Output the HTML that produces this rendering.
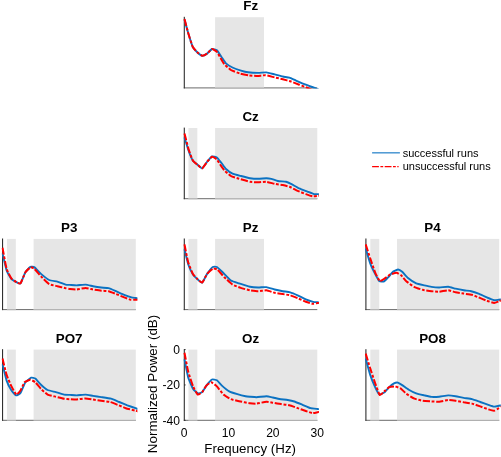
<!DOCTYPE html>
<html><head><meta charset="utf-8"><title>PSD</title>
<style>html,body{margin:0;padding:0;background:#fff}svg{display:block}text{font-family:"Liberation Sans",sans-serif;fill:#000}</style></head><body>
<svg width="501" height="457" viewBox="0 0 501 457" style="will-change:transform">
<rect x="0" y="0" width="501" height="457" fill="#fff"/>
<defs>
<clipPath id="c_Fz"><rect x="183.00" y="16.70" width="135.90" height="71.70"/></clipPath>
<clipPath id="c_Cz"><rect x="183.00" y="127.50" width="135.90" height="71.70"/></clipPath>
<clipPath id="c_P3"><rect x="1.50" y="238.40" width="135.90" height="71.70"/></clipPath>
<clipPath id="c_Pz"><rect x="183.00" y="238.40" width="135.90" height="71.70"/></clipPath>
<clipPath id="c_P4"><rect x="364.90" y="238.40" width="135.90" height="71.70"/></clipPath>
<clipPath id="c_PO7"><rect x="1.50" y="349.10" width="135.90" height="71.70"/></clipPath>
<clipPath id="c_Oz"><rect x="183.00" y="349.10" width="135.90" height="71.70"/></clipPath>
<clipPath id="c_PO8"><rect x="364.90" y="349.10" width="135.90" height="71.70"/></clipPath>
</defs>
<rect x="183.75" y="87.40" width="133.55" height="1" fill="#6a6a6a"/>
<rect x="215.10" y="17.20" width="48.88" height="70.70" fill="#e6e6e6"/>
<rect x="215.10" y="87.40" width="48.88" height="1" fill="#b4b4b4"/>
<rect x="183.75" y="16.80" width="1.1" height="71.60" fill="#303030"/>
<g clip-path="url(#c_Fz)" fill="none" stroke-linejoin="round">
<path d="M184.50 19.50 C184.79 20.54 187.91 32.04 188.50 34.00 C189.09 35.96 192.16 45.68 192.80 47.00 C193.44 48.32 196.83 51.88 197.50 52.50 C198.17 53.12 201.51 55.62 202.20 55.70 C202.89 55.78 206.40 54.08 207.10 53.60 C207.80 53.12 211.30 49.24 212.00 49.00 C212.70 48.76 216.22 49.73 216.90 50.30 C217.58 50.87 220.85 56.06 221.50 57.00 C222.15 57.94 225.21 62.65 226.00 63.40 C226.79 64.15 231.43 66.99 232.50 67.50 C233.57 68.01 239.89 70.26 241.00 70.60 C242.11 70.94 246.77 72.14 248.00 72.30 C249.23 72.46 256.89 72.89 258.20 72.90 C259.51 72.91 265.23 72.29 266.40 72.40 C267.57 72.51 273.43 74.11 274.60 74.40 C275.77 74.69 281.74 76.26 282.80 76.50 C283.86 76.74 288.46 77.41 289.40 77.70 C290.34 77.99 294.83 80.10 296.00 80.60 C297.17 81.10 304.46 84.18 305.80 84.70 C307.14 85.22 313.93 87.58 314.80 87.90 C315.67 88.22 317.61 89.04 318.00 89.20 C318.39 89.36 320.14 90.07 320.30 90.13" stroke="#0b72c2" stroke-width="1.90"/>
<path d="M184.50 19.00 C184.79 20.07 187.91 32.00 188.50 34.00 C189.09 36.00 192.16 45.68 192.80 47.00 C193.44 48.32 196.83 51.88 197.50 52.50 C198.17 53.12 201.51 55.62 202.20 55.70 C202.89 55.78 206.40 54.08 207.10 53.60 C207.80 53.12 211.30 49.12 212.00 49.00 C212.70 48.88 216.29 51.26 216.90 51.90 C217.51 52.54 219.97 57.12 220.50 58.00 C221.03 58.88 223.56 63.34 224.30 64.20 C225.04 65.06 229.78 69.33 230.90 70.00 C232.02 70.67 238.71 73.21 240.00 73.60 C241.29 73.99 247.76 75.23 249.00 75.40 C250.24 75.57 256.21 76.01 257.40 76.00 C258.59 75.99 264.37 75.10 265.60 75.20 C266.83 75.30 273.37 77.11 274.60 77.40 C275.83 77.69 281.63 79.01 282.80 79.30 C283.97 79.59 289.83 81.11 291.00 81.50 C292.17 81.89 297.96 84.22 299.20 84.70 C300.44 85.18 307.39 87.84 308.30 88.20 C309.21 88.56 311.14 89.43 312.00 89.80 C312.86 90.17 319.71 93.13 320.30 93.39" stroke="#ff0000" stroke-width="2.00" stroke-dasharray="7.2 1.7 2.8 1.7"/>
</g>
<text x="250.65" y="10.30" font-size="13.4" font-weight="bold" text-anchor="middle">Fz</text>
<rect x="183.75" y="198.20" width="133.55" height="1" fill="#6a6a6a"/>
<rect x="188.44" y="128.00" width="8.89" height="70.70" fill="#e6e6e6"/>
<rect x="188.44" y="198.20" width="8.89" height="1" fill="#b4b4b4"/>
<rect x="215.10" y="128.00" width="102.20" height="70.70" fill="#e6e6e6"/>
<rect x="215.10" y="198.20" width="102.20" height="1" fill="#b4b4b4"/>
<rect x="183.75" y="127.60" width="1.1" height="71.60" fill="#303030"/>
<g clip-path="url(#c_Cz)" fill="none" stroke-linejoin="round">
<path d="M184.50 137.50 C184.79 138.43 187.91 148.86 188.50 150.50 C189.09 152.14 192.16 159.49 192.80 160.50 C193.44 161.51 196.83 164.14 197.50 164.70 C198.17 165.26 201.52 168.49 202.20 168.30 C202.88 168.11 206.30 162.85 207.00 162.00 C207.70 161.15 211.29 156.72 212.00 156.40 C212.71 156.08 216.22 157.03 216.90 157.50 C217.58 157.97 220.85 162.18 221.50 163.00 C222.15 163.82 225.21 168.24 226.00 169.00 C226.79 169.76 231.43 173.10 232.50 173.60 C233.57 174.10 239.75 175.67 241.00 176.00 C242.25 176.33 248.77 178.00 250.00 178.20 C251.23 178.40 257.03 178.80 258.20 178.80 C259.37 178.80 265.46 178.20 266.40 178.20 C267.34 178.20 270.48 178.60 271.30 178.80 C272.12 179.00 276.84 180.79 277.90 181.00 C278.96 181.21 285.16 181.60 286.10 181.80 C287.04 182.00 290.06 183.33 291.00 183.80 C291.94 184.27 298.03 187.84 299.20 188.40 C300.37 188.96 306.34 191.19 307.40 191.60 C308.46 192.01 313.28 193.92 314.00 194.10 C314.72 194.28 317.05 194.10 317.50 194.10 C317.95 194.10 320.10 194.10 320.30 194.10" stroke="#0b72c2" stroke-width="1.90"/>
<path d="M184.50 133.40 C184.79 134.51 187.91 147.06 188.50 149.00 C189.09 150.94 192.16 159.38 192.80 160.50 C193.44 161.62 196.83 164.14 197.50 164.70 C198.17 165.26 201.52 168.49 202.20 168.30 C202.88 168.11 206.30 162.82 207.00 162.00 C207.70 161.18 211.29 156.97 212.00 156.80 C212.71 156.63 216.29 159.01 216.90 159.60 C217.51 160.19 219.97 164.24 220.50 165.00 C221.03 165.76 223.56 169.51 224.30 170.30 C225.04 171.09 229.85 175.39 230.90 176.00 C231.95 176.61 237.64 178.39 239.00 178.80 C240.36 179.21 248.63 181.55 250.00 181.80 C251.37 182.05 257.03 182.30 258.20 182.30 C259.37 182.30 265.23 181.69 266.40 181.80 C267.57 181.91 273.43 183.56 274.60 183.80 C275.77 184.04 281.74 184.89 282.80 185.10 C283.86 185.31 288.34 186.29 289.40 186.70 C290.46 187.11 296.43 190.27 297.60 190.80 C298.77 191.33 304.74 193.71 305.80 194.10 C306.86 194.49 311.56 196.08 312.40 196.20 C313.24 196.32 316.94 195.84 317.50 195.80 C318.06 195.76 320.10 195.60 320.30 195.58" stroke="#ff0000" stroke-width="2.00" stroke-dasharray="7.2 1.7 2.8 1.7"/>
</g>
<text x="250.65" y="121.10" font-size="13.4" font-weight="bold" text-anchor="middle">Cz</text>
<rect x="2.00" y="309.10" width="133.80" height="1" fill="#6a6a6a"/>
<rect x="6.94" y="238.90" width="8.89" height="70.70" fill="#e6e6e6"/>
<rect x="6.94" y="309.10" width="8.89" height="1" fill="#b4b4b4"/>
<rect x="33.60" y="238.90" width="102.20" height="70.70" fill="#e6e6e6"/>
<rect x="33.60" y="309.10" width="102.20" height="1" fill="#b4b4b4"/>
<rect x="2.00" y="238.50" width="1.1" height="71.60" fill="#303030"/>
<g clip-path="url(#c_P3)" fill="none" stroke-linejoin="round">
<path d="M2.50 253.40 C2.79 254.62 5.96 268.66 6.60 270.50 C7.24 272.34 10.80 278.37 11.50 279.20 C12.20 280.03 15.76 281.80 16.40 282.10 C17.04 282.40 19.86 284.10 20.50 283.40 C21.14 282.70 24.69 273.49 25.40 272.30 C26.11 271.11 29.75 267.15 30.40 266.80 C31.05 266.45 33.74 266.89 34.50 267.40 C35.26 267.91 39.95 273.00 41.00 273.90 C42.05 274.80 48.03 279.45 49.20 280.00 C50.37 280.55 56.23 281.27 57.40 281.60 C58.57 281.93 64.70 284.36 65.60 284.60 C66.50 284.84 69.21 284.84 70.00 284.90 C70.79 284.96 75.49 285.42 76.60 285.40 C77.71 285.38 84.43 284.54 85.60 284.60 C86.77 284.66 91.89 285.99 93.00 286.20 C94.11 286.41 100.09 287.36 101.20 287.50 C102.31 287.64 107.54 287.94 108.60 288.20 C109.66 288.46 114.89 290.73 116.00 291.20 C117.11 291.67 123.09 294.36 124.20 294.80 C125.31 295.24 130.69 297.17 131.50 297.40 C132.31 297.63 134.98 297.92 135.50 298.00 C136.02 298.08 138.56 298.46 138.80 298.50" stroke="#0b72c2" stroke-width="1.90"/>
<path d="M2.50 247.70 C2.79 249.21 5.96 266.59 6.60 268.80 C7.24 271.01 10.80 277.65 11.50 278.60 C12.20 279.55 15.76 281.76 16.40 282.10 C17.04 282.44 19.86 284.10 20.50 283.40 C21.14 282.70 24.69 273.44 25.40 272.30 C26.11 271.16 29.75 267.64 30.40 267.40 C31.05 267.16 33.74 268.36 34.50 269.00 C35.26 269.64 39.95 275.32 41.00 276.40 C42.05 277.48 48.03 283.40 49.20 284.10 C50.37 284.80 56.23 285.91 57.40 286.20 C58.57 286.49 64.70 288.00 65.60 288.20 C66.50 288.40 69.21 288.91 70.00 289.00 C70.79 289.09 75.49 289.58 76.60 289.50 C77.71 289.42 84.43 287.90 85.60 287.90 C86.77 287.90 91.89 289.30 93.00 289.50 C94.11 289.70 100.09 290.58 101.20 290.70 C102.31 290.82 107.54 290.96 108.60 291.20 C109.66 291.44 114.89 293.56 116.00 294.00 C117.11 294.44 123.15 296.99 124.20 297.40 C125.25 297.81 129.89 299.54 130.70 299.70 C131.51 299.86 134.92 299.70 135.50 299.70 C136.08 299.70 138.56 299.70 138.80 299.70" stroke="#ff0000" stroke-width="2.00" stroke-dasharray="7.2 1.7 2.8 1.7"/>
</g>
<text x="69.15" y="232.00" font-size="13.4" font-weight="bold" text-anchor="middle">P3</text>
<rect x="183.75" y="309.10" width="133.55" height="1" fill="#6a6a6a"/>
<rect x="188.44" y="238.90" width="8.89" height="70.70" fill="#e6e6e6"/>
<rect x="188.44" y="309.10" width="8.89" height="1" fill="#b4b4b4"/>
<rect x="215.10" y="238.90" width="48.88" height="70.70" fill="#e6e6e6"/>
<rect x="215.10" y="309.10" width="48.88" height="1" fill="#b4b4b4"/>
<rect x="183.75" y="238.50" width="1.1" height="71.60" fill="#303030"/>
<g clip-path="url(#c_Pz)" fill="none" stroke-linejoin="round">
<path d="M184.50 249.30 C184.76 250.37 187.61 262.52 188.20 264.30 C188.79 266.08 192.16 273.16 192.80 274.20 C193.44 275.24 196.53 278.30 197.20 278.90 C197.87 279.50 201.49 282.96 202.20 282.60 C202.91 282.24 206.34 275.01 207.10 273.90 C207.86 272.79 212.10 267.49 212.80 267.00 C213.50 266.51 216.19 266.62 216.90 267.00 C217.61 267.38 221.70 271.34 222.70 272.30 C223.70 273.26 229.73 279.71 230.90 280.50 C232.07 281.29 237.74 282.96 239.10 283.40 C240.46 283.84 248.64 286.41 250.00 286.70 C251.36 286.99 257.03 287.47 258.20 287.50 C259.37 287.53 265.23 286.96 266.40 287.10 C267.57 287.24 273.43 289.21 274.60 289.50 C275.77 289.79 281.69 291.00 282.80 291.20 C283.91 291.40 289.14 292.01 290.20 292.30 C291.26 292.59 296.49 294.79 297.60 295.30 C298.71 295.81 304.69 298.94 305.80 299.40 C306.91 299.86 312.36 301.60 313.20 301.80 C314.04 302.00 316.99 302.15 317.50 302.20 C318.01 302.25 320.10 302.44 320.30 302.46" stroke="#0b72c2" stroke-width="1.90"/>
<path d="M184.50 244.40 C184.76 245.68 187.61 260.21 188.20 262.30 C188.79 264.39 192.16 272.51 192.80 273.70 C193.44 274.89 196.53 278.26 197.20 278.90 C197.87 279.54 201.49 282.96 202.20 282.60 C202.91 282.24 206.31 274.91 207.10 273.90 C207.89 272.89 212.44 268.79 213.20 268.50 C213.96 268.21 216.91 269.18 217.70 269.80 C218.49 270.42 223.24 276.14 224.30 277.20 C225.36 278.26 231.33 283.84 232.50 284.60 C233.67 285.36 239.45 287.49 240.70 287.90 C241.95 288.31 248.75 290.06 250.00 290.30 C251.25 290.54 257.03 291.20 258.20 291.20 C259.37 291.20 265.23 290.19 266.40 290.30 C267.57 290.41 273.43 292.53 274.60 292.80 C275.77 293.07 281.69 293.92 282.80 294.10 C283.91 294.28 289.14 295.01 290.20 295.30 C291.26 295.59 296.49 297.74 297.60 298.20 C298.71 298.66 304.74 301.40 305.80 301.80 C306.86 302.20 311.56 303.71 312.40 303.80 C313.24 303.89 316.94 303.18 317.50 303.10 C318.06 303.02 320.10 302.74 320.30 302.72" stroke="#ff0000" stroke-width="2.00" stroke-dasharray="7.2 1.7 2.8 1.7"/>
</g>
<text x="250.65" y="232.00" font-size="13.4" font-weight="bold" text-anchor="middle">Pz</text>
<rect x="365.35" y="309.10" width="133.85" height="1" fill="#6a6a6a"/>
<rect x="370.34" y="238.90" width="8.89" height="70.70" fill="#e6e6e6"/>
<rect x="370.34" y="309.10" width="8.89" height="1" fill="#b4b4b4"/>
<rect x="397.00" y="238.90" width="102.20" height="70.70" fill="#e6e6e6"/>
<rect x="397.00" y="309.10" width="102.20" height="1" fill="#b4b4b4"/>
<rect x="365.35" y="238.50" width="1.1" height="71.60" fill="#303030"/>
<g clip-path="url(#c_P4)" fill="none" stroke-linejoin="round">
<path d="M365.70 248.50 C366.02 249.56 369.53 261.49 370.20 263.30 C370.87 265.11 374.46 272.64 375.10 273.90 C375.74 275.16 378.55 280.47 379.20 281.00 C379.85 281.53 383.55 281.57 384.20 281.30 C384.85 281.03 387.66 277.90 388.30 277.20 C388.94 276.50 392.50 272.05 393.20 271.50 C393.90 270.95 397.46 269.48 398.10 269.50 C398.74 269.52 401.49 271.19 402.20 271.80 C402.91 272.41 407.00 277.17 408.00 278.00 C409.00 278.83 415.03 282.87 416.20 283.40 C417.37 283.93 423.31 285.15 424.40 285.40 C425.49 285.65 430.44 286.75 431.50 286.90 C432.56 287.05 438.01 287.51 439.20 287.50 C440.39 287.49 447.03 286.61 448.20 286.70 C449.37 286.79 454.49 288.44 455.60 288.70 C456.71 288.96 462.69 290.12 463.80 290.30 C464.91 290.48 470.14 290.96 471.20 291.20 C472.26 291.44 477.49 293.16 478.60 293.60 C479.71 294.04 485.69 296.93 486.80 297.40 C487.91 297.87 493.34 300.04 494.20 300.20 C495.06 300.36 498.23 299.76 498.80 299.70 C499.37 299.64 501.96 299.36 502.20 299.33" stroke="#0b72c2" stroke-width="1.90"/>
<path d="M365.70 244.40 C366.02 245.39 369.53 256.31 370.20 258.30 C370.87 260.29 374.42 270.68 375.10 272.30 C375.78 273.92 379.05 280.53 379.70 281.00 C380.35 281.47 383.47 279.35 384.20 278.90 C384.93 278.45 389.02 275.14 389.90 274.70 C390.78 274.26 395.68 272.74 396.50 272.80 C397.32 272.86 400.70 274.99 401.40 275.60 C402.10 276.21 405.36 280.48 406.30 281.30 C407.24 282.12 413.33 286.49 414.50 287.10 C415.67 287.71 421.49 289.51 422.70 289.80 C423.91 290.09 430.32 291.06 431.50 291.20 C432.68 291.34 438.01 291.76 439.20 291.70 C440.39 291.64 447.03 290.26 448.20 290.30 C449.37 290.34 454.49 292.06 455.60 292.30 C456.71 292.54 462.63 293.42 463.80 293.60 C464.97 293.78 470.94 294.53 472.00 294.80 C473.06 295.07 477.54 296.98 478.60 297.40 C479.66 297.82 485.69 300.30 486.80 300.70 C487.91 301.10 493.34 302.96 494.20 303.00 C495.06 303.04 498.23 301.51 498.80 301.30 C499.37 301.09 501.96 300.13 502.20 300.04" stroke="#ff0000" stroke-width="2.00" stroke-dasharray="7.2 1.7 2.8 1.7"/>
</g>
<text x="432.55" y="232.00" font-size="13.4" font-weight="bold" text-anchor="middle">P4</text>
<rect x="2.00" y="419.80" width="133.80" height="1" fill="#6a6a6a"/>
<rect x="6.94" y="349.60" width="8.89" height="70.70" fill="#e6e6e6"/>
<rect x="6.94" y="419.80" width="8.89" height="1" fill="#b4b4b4"/>
<rect x="33.60" y="349.60" width="102.20" height="70.70" fill="#e6e6e6"/>
<rect x="33.60" y="419.80" width="102.20" height="1" fill="#b4b4b4"/>
<rect x="2.00" y="349.20" width="1.1" height="71.60" fill="#303030"/>
<g clip-path="url(#c_PO7)" fill="none" stroke-linejoin="round">
<path d="M2.50 364.20 C2.79 365.37 5.96 378.72 6.60 380.60 C7.24 382.48 10.82 389.44 11.50 390.50 C12.18 391.56 15.46 395.22 16.10 395.40 C16.74 395.58 19.84 393.94 20.50 393.00 C21.16 392.06 24.64 383.39 25.40 382.30 C26.16 381.21 30.49 377.97 31.20 377.70 C31.91 377.43 34.60 378.00 35.30 378.50 C36.00 379.00 40.12 383.88 41.00 384.70 C41.88 385.52 46.54 389.47 47.60 390.00 C48.66 390.53 54.63 391.77 55.80 392.10 C56.97 392.43 62.99 394.40 64.00 394.60 C65.01 394.80 69.10 394.84 70.00 394.90 C70.90 394.96 75.49 395.42 76.60 395.40 C77.71 395.38 84.43 394.56 85.60 394.60 C86.77 394.64 91.89 395.72 93.00 395.90 C94.11 396.08 99.91 396.90 101.20 397.10 C102.49 397.30 109.71 398.35 111.00 398.70 C112.29 399.05 118.03 401.53 119.20 402.00 C120.37 402.47 126.24 404.86 127.40 405.30 C128.56 405.74 134.69 407.91 135.50 408.20 C136.31 408.49 138.56 409.30 138.80 409.38" stroke="#0b72c2" stroke-width="1.90"/>
<path d="M2.50 358.50 C2.79 359.67 5.96 372.91 6.60 374.90 C7.24 376.89 10.80 384.99 11.50 386.40 C12.20 387.81 15.76 394.31 16.40 394.60 C17.04 394.89 19.91 391.38 20.50 390.50 C21.09 389.62 23.89 383.06 24.60 382.30 C25.31 381.54 29.64 379.80 30.40 379.80 C31.16 379.80 34.54 381.65 35.30 382.30 C36.06 382.95 40.12 388.02 41.00 388.90 C41.88 389.78 46.54 394.04 47.60 394.60 C48.66 395.16 54.63 396.41 55.80 396.70 C56.97 396.99 62.99 398.52 64.00 398.70 C65.01 398.88 69.10 399.14 70.00 399.20 C70.90 399.26 75.49 399.56 76.60 399.50 C77.71 399.44 84.43 398.40 85.60 398.40 C86.77 398.40 91.89 399.34 93.00 399.50 C94.11 399.66 99.97 400.52 101.20 400.70 C102.43 400.88 109.03 401.71 110.20 402.00 C111.37 402.29 116.49 404.36 117.60 404.80 C118.71 405.24 124.52 407.78 125.80 408.20 C127.08 408.62 134.57 410.46 135.50 410.70 C136.43 410.94 138.56 411.49 138.80 411.55" stroke="#ff0000" stroke-width="2.00" stroke-dasharray="7.2 1.7 2.8 1.7"/>
</g>
<text x="69.15" y="342.70" font-size="13.4" font-weight="bold" text-anchor="middle">PO7</text>
<rect x="183.75" y="419.80" width="133.55" height="1" fill="#6a6a6a"/>
<rect x="188.44" y="349.60" width="8.89" height="70.70" fill="#e6e6e6"/>
<rect x="188.44" y="419.80" width="8.89" height="1" fill="#b4b4b4"/>
<rect x="215.10" y="349.60" width="102.20" height="70.70" fill="#e6e6e6"/>
<rect x="215.10" y="419.80" width="102.20" height="1" fill="#b4b4b4"/>
<rect x="183.75" y="349.20" width="1.1" height="71.60" fill="#303030"/>
<g clip-path="url(#c_Oz)" fill="none" stroke-linejoin="round">
<path d="M184.50 359.30 C184.76 360.59 187.59 375.29 188.20 377.40 C188.81 379.51 192.39 387.76 193.10 388.90 C193.81 390.04 197.45 393.17 198.10 393.40 C198.75 393.63 201.56 392.72 202.20 392.10 C202.84 391.48 206.40 385.60 207.10 384.70 C207.80 383.80 211.30 379.81 212.00 379.50 C212.70 379.19 216.19 379.86 216.90 380.30 C217.61 380.74 221.02 384.81 221.90 385.60 C222.78 386.39 228.09 390.69 229.20 391.30 C230.31 391.91 236.23 393.75 237.40 394.10 C238.57 394.45 244.70 396.01 245.60 396.20 C246.50 396.39 249.21 396.63 250.00 396.70 C250.79 396.77 255.43 397.24 256.60 397.20 C257.77 397.16 265.23 396.18 266.40 396.20 C267.57 396.22 272.06 397.30 273.00 397.50 C273.94 397.70 278.45 398.82 279.50 399.00 C280.55 399.18 286.64 399.82 287.70 400.00 C288.76 400.18 293.24 401.16 294.30 401.50 C295.36 401.84 301.33 404.32 302.50 404.80 C303.67 405.28 309.63 407.90 310.70 408.20 C311.77 408.50 316.81 408.92 317.50 409.00 C318.19 409.08 320.10 409.31 320.30 409.33" stroke="#0b72c2" stroke-width="1.90"/>
<path d="M184.50 352.70 C184.76 354.05 187.59 369.19 188.20 371.60 C188.81 374.01 192.42 384.76 193.10 386.40 C193.78 388.04 197.05 394.19 197.70 394.60 C198.35 395.01 201.59 392.74 202.20 392.10 C202.81 391.46 205.66 386.30 206.30 385.60 C206.94 384.90 210.44 382.24 211.20 382.30 C211.96 382.36 216.02 385.52 216.90 386.40 C217.78 387.28 222.50 393.69 223.50 394.60 C224.50 395.51 229.79 398.73 230.90 399.20 C232.01 399.67 237.74 400.91 239.10 401.20 C240.46 401.49 248.75 403.13 250.00 403.30 C251.25 403.47 255.43 403.71 256.60 403.60 C257.77 403.49 265.23 401.76 266.40 401.70 C267.57 401.64 271.94 402.63 273.00 402.80 C274.06 402.97 280.03 403.92 281.20 404.10 C282.37 404.28 288.23 405.01 289.40 405.30 C290.57 405.59 296.43 407.69 297.60 408.10 C298.77 408.51 304.74 410.64 305.80 411.00 C306.86 411.36 311.56 413.01 312.40 413.10 C313.24 413.19 316.94 412.39 317.50 412.30 C318.06 412.21 320.10 411.89 320.30 411.86" stroke="#ff0000" stroke-width="2.00" stroke-dasharray="7.2 1.7 2.8 1.7"/>
</g>
<text x="250.65" y="342.70" font-size="13.4" font-weight="bold" text-anchor="middle">Oz</text>
<rect x="365.35" y="419.80" width="133.85" height="1" fill="#6a6a6a"/>
<rect x="370.34" y="349.60" width="8.89" height="70.70" fill="#e6e6e6"/>
<rect x="370.34" y="419.80" width="8.89" height="1" fill="#b4b4b4"/>
<rect x="397.00" y="349.60" width="102.20" height="70.70" fill="#e6e6e6"/>
<rect x="397.00" y="419.80" width="102.20" height="1" fill="#b4b4b4"/>
<rect x="365.35" y="349.20" width="1.1" height="71.60" fill="#303030"/>
<g clip-path="url(#c_PO8)" fill="none" stroke-linejoin="round">
<path d="M365.70 358.50 C366.02 359.67 369.53 372.85 370.20 374.90 C370.87 376.95 374.46 385.81 375.10 387.20 C375.74 388.59 378.55 393.91 379.20 394.30 C379.85 394.69 383.49 393.11 384.20 392.60 C384.91 392.09 388.40 387.86 389.10 387.20 C389.80 386.54 393.38 383.73 394.00 383.40 C394.62 383.07 397.21 382.48 397.80 382.60 C398.39 382.72 401.41 384.59 402.20 385.10 C402.99 385.61 407.80 389.11 408.80 389.70 C409.80 390.29 415.09 392.99 416.20 393.40 C417.31 393.81 423.31 395.15 424.40 395.40 C425.49 395.65 430.44 396.81 431.50 396.90 C432.56 396.99 438.01 396.81 439.20 396.70 C440.39 396.59 447.03 395.44 448.20 395.40 C449.37 395.36 454.49 396.02 455.60 396.20 C456.71 396.38 462.63 397.69 463.80 397.90 C464.97 398.11 470.83 398.91 472.00 399.20 C473.17 399.49 479.03 401.60 480.20 402.00 C481.37 402.40 487.40 404.47 488.40 404.80 C489.40 405.13 493.46 406.53 494.20 406.60 C494.94 406.67 498.23 405.90 498.80 405.80 C499.37 405.70 501.96 405.25 502.20 405.21" stroke="#0b72c2" stroke-width="1.90"/>
<path d="M365.70 353.60 C366.02 354.65 369.53 366.19 370.20 368.30 C370.87 370.41 374.42 381.20 375.10 383.10 C375.78 385.00 379.05 394.29 379.70 394.90 C380.35 395.51 383.53 392.15 384.20 391.60 C384.87 391.05 388.34 387.57 389.10 387.20 C389.86 386.83 393.98 386.31 394.80 386.40 C395.62 386.49 399.78 387.87 400.60 388.40 C401.42 388.93 405.31 393.06 406.30 393.80 C407.29 394.54 413.33 398.20 414.50 398.70 C415.67 399.20 421.49 400.61 422.70 400.80 C423.91 400.99 430.32 401.34 431.50 401.40 C432.68 401.46 438.01 401.80 439.20 401.70 C440.39 401.60 447.03 400.06 448.20 400.00 C449.37 399.94 454.49 400.64 455.60 400.80 C456.71 400.96 462.63 402.10 463.80 402.30 C464.97 402.50 470.83 403.31 472.00 403.60 C473.17 403.89 479.03 405.99 480.20 406.40 C481.37 406.81 487.40 409.09 488.40 409.40 C489.40 409.71 493.46 410.79 494.20 410.70 C494.94 410.61 498.23 408.51 498.80 408.20 C499.37 407.89 501.96 406.48 502.20 406.35" stroke="#ff0000" stroke-width="2.00" stroke-dasharray="7.2 1.7 2.8 1.7"/>
</g>
<text x="432.55" y="342.70" font-size="13.4" font-weight="bold" text-anchor="middle">PO8</text>
<rect x="184.00" y="349.10" width="1.6" height="1" fill="#303030"/>
<text x="180.00" y="353.90" font-size="12.1" text-anchor="end">0</text>
<rect x="184.00" y="384.45" width="1.6" height="1" fill="#303030"/>
<text x="180.00" y="389.25" font-size="12.1" text-anchor="end">-20</text>
<rect x="184.00" y="419.80" width="1.6" height="1" fill="#303030"/>
<text x="180.00" y="424.60" font-size="12.1" text-anchor="end">-40</text>
<text x="184.00" y="436.50" font-size="12.1" text-anchor="middle">0</text>
<text x="228.43" y="436.50" font-size="12.1" text-anchor="middle">10</text>
<text x="272.87" y="436.50" font-size="12.1" text-anchor="middle">20</text>
<text x="317.30" y="436.50" font-size="12.1" text-anchor="middle">30</text>
<text x="250.15" y="453.30" font-size="13.3" text-anchor="middle">Frequency (Hz)</text>
<text transform="translate(156.9 383.95) rotate(-90)" font-size="13.4" text-anchor="middle">Normalized Power (dB)</text>
<rect x="372.1" y="152.3" width="27.8" height="1.1" fill="#0b72c2"/>
<path d="M372.1 166.6 H398.6" stroke="#ff0000" stroke-width="1.35" stroke-dasharray="6.8 1.5 2.8 1.5" fill="none"/>
<text x="402.7" y="156.6" font-size="11">successful runs</text>
<text x="402.7" y="170.4" font-size="11">unsuccessful runs</text>
</svg></body></html>
